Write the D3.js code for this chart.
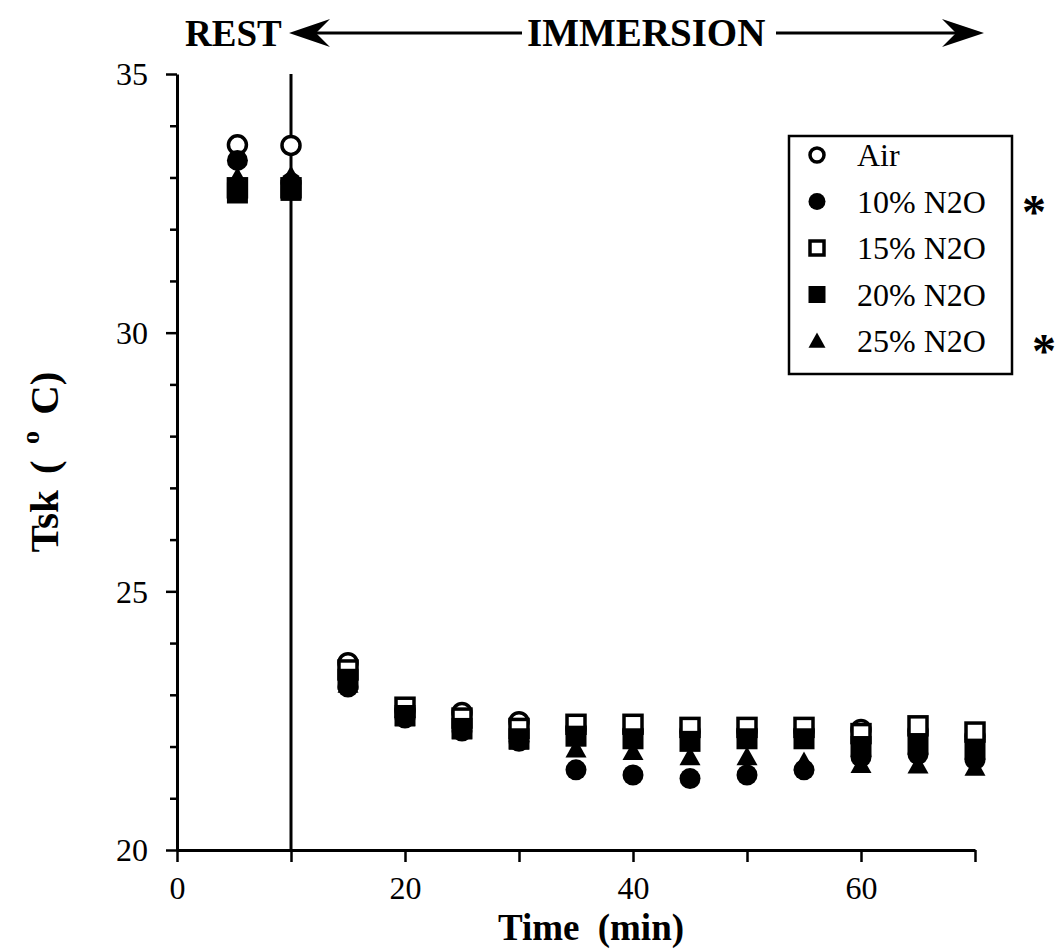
<!DOCTYPE html>
<html>
<head>
<meta charset="utf-8">
<script src="https://cdn.jsdelivr.net/npm/d3@7"></script>
<style>
  html, body { margin: 0; padding: 0; background: #fff; }
  svg { display: block; font-family: "Liberation Serif", "Times New Roman", serif; }
</style>
</head>
<body>
<div id="chart"></div>
<script>
// time points (min); first point is the rest reading
const times = [5.3, 10, 15, 20, 25, 30, 35, 40, 45, 50, 55, 60, 65, 70];

const airVals   = [33.63, 33.62, 23.62, 22.70, 22.66, 22.48, 22.35, 22.30, 22.30, 22.30, 22.30, 22.33, 22.30, 22.20];
const n10Vals   = [33.33, 32.90, 23.15, 22.55, 22.30, 22.10, 21.55, 21.45, 21.38, 21.45, 21.55, 21.80, 21.85, 21.75];
const n15Vals   = [32.80, 32.80, 23.48, 22.76, 22.55, 22.35, 22.43, 22.43, 22.37, 22.37, 22.37, 22.25, 22.40, 22.28];
const n20Vals   = [32.70, 32.75, 23.30, 22.60, 22.35, 22.15, 22.20, 22.15, 22.10, 22.15, 22.15, 22.00, 22.05, 21.95];
const n25Vals   = [33.00, 33.03, 23.20, 22.55, 22.30, 22.10, 21.95, 21.90, 21.80, 21.80, 21.70, 21.65, 21.64, 21.60];

const seriesNames = ["Air", "10% N2O", "15% N2O", "20% N2O", "25% N2O"];
const seriesShapes = ["circle-open", "circle", "square-open", "square", "triangle"];
const seriesVals = [airVals, n10Vals, n15Vals, n20Vals, n25Vals];
const starred = [false, true, false, false, true];

const xTicks = [0, 10, 20, 30, 40, 50, 60, 70];
const xTickLabels = [0, 20, 40, 60];
const yTicks = d3.range(20, 36, 1);
const yTickLabels = [20, 25, 30, 35];

const W = 1059, H = 952;
const svg = d3.select("#chart").append("svg").attr("width", W).attr("height", H);

const x = d3.scaleLinear().domain([0, 70]).range([177, 975]);
const y = d3.scaleLinear().domain([20, 35]).range([850, 74]);

// axes
const xAxis = svg.append("g").attr("transform", `translate(0,${y(20)})`)
    .call(d3.axisBottom(x).tickValues(xTicks).tickSize(12).tickSizeOuter(0).tickFormat(d => xTickLabels.includes(d) ? d : ""));
const yAxis = svg.append("g").attr("transform", `translate(${x(0)},0)`)
    .call(d3.axisLeft(y).tickValues(yTicks).tickSize(7).tickPadding(22).tickSizeOuter(0).tickFormat(d => yTickLabels.includes(d) ? d : ""));

[xAxis, yAxis].forEach(a => {
    a.select(".domain").attr("stroke", "#000").attr("stroke-width", 3);
    a.selectAll(".tick line").attr("stroke", "#000").attr("stroke-width", 2.5);
    a.selectAll(".tick text").attr("fill", "#000").style("font-size", "32px")
        .style("font-family", "'Liberation Serif', serif");
});
xAxis.selectAll(".tick text").attr("y", 49).attr("dy", 0);
yAxis.selectAll(".tick text").attr("dy", "0.34em");
yAxis.selectAll(".tick").filter(d => yTickLabels.includes(d)).select("line").attr("x2", -11);

// rest / immersion divider
svg.append("line")
    .attr("x1", x(10)).attr("x2", x(10)).attr("y1", y(35)).attr("y2", y(20))
    .attr("stroke", "#000").attr("stroke-width", 3);

// axis titles
svg.append("text").attr("x", 591).attr("y", 940).attr("text-anchor", "middle")
    .style("font-size", "37px").style("font-weight", "bold").style("word-spacing", "9px")
    .text("Time  (min)");

const yt = svg.append("text").attr("transform", "translate(58,462) rotate(-90)")
    .attr("text-anchor", "middle").style("font-size", "41px").style("font-weight", "bold")
    .style("word-spacing", "6px");
yt.append("tspan").text("Tsk ( ");
yt.append("tspan").attr("dy", -19).style("font-size", "26px").text("o");
yt.append("tspan").attr("dy", 19).text(" C)");

// header with arrows
const hy = 33;
svg.append("text").attr("x", 185).attr("y", hy + 13).style("font-size", "37px").style("font-weight", "bold").text("REST");
svg.append("text").attr("x", 527).attr("y", hy + 13).style("font-size", "39px").style("font-weight", "bold").text("IMMERSION");
svg.append("line").attr("x1", 305).attr("x2", 522).attr("y1", hy).attr("y2", hy).attr("stroke", "#000").attr("stroke-width", 3);
svg.append("line").attr("x1", 776).attr("x2", 965).attr("y1", hy).attr("y2", hy).attr("stroke", "#000").attr("stroke-width", 3);
svg.append("path").attr("d", `M289,${hy} L330,${hy - 14} L316,${hy} L330,${hy + 14} Z`).attr("fill", "#000");
svg.append("path").attr("d", `M984,${hy} L942,${hy - 14} L956,${hy} L942,${hy + 14} Z`).attr("fill", "#000");

// markers
function drawMarker(g, shape, cx, cy, s) {
    const h = s / 2;
    if (shape === "circle-open") {
        g.append("circle").attr("cx", cx).attr("cy", cy).attr("r", h - 1.5)
            .attr("fill", "#fff").attr("stroke", "#000").attr("stroke-width", 3.5);
    } else if (shape === "circle") {
        g.append("circle").attr("cx", cx).attr("cy", cy).attr("r", h).attr("fill", "#000");
    } else if (shape === "square-open") {
        g.append("rect").attr("x", cx - h + 1.5).attr("y", cy - h + 1.5).attr("width", s - 3).attr("height", s - 3)
            .attr("fill", "#fff").attr("stroke", "#000").attr("stroke-width", 3.5);
    } else if (shape === "square") {
        g.append("rect").attr("x", cx - h).attr("y", cy - h).attr("width", s).attr("height", s).attr("fill", "#000");
    } else if (shape === "triangle") {
        g.append("path").attr("d", `M${cx},${cy - h} L${cx + h},${cy + h * 0.8} L${cx - h},${cy + h * 0.8} Z`).attr("fill", "#000");
    }
}

const markers = svg.append("g");
// open markers first, filled ones drawn over them
[0, 2, 1, 3, 4].forEach(i => {
    times.forEach((t, j) => drawMarker(markers, seriesShapes[i], x(t), y(seriesVals[i][j]), 21));
});

// legend
const lg = svg.append("g");
lg.append("rect").attr("x", 789).attr("y", 136).attr("width", 223).attr("height", 238)
    .attr("fill", "#fff").attr("stroke", "#000").attr("stroke-width", 2.5);
seriesNames.forEach((name, i) => {
    const ly = 155 + i * 46.5;
    drawMarker(lg, seriesShapes[i], 817, ly, 17);
    lg.append("text").attr("x", 857).attr("y", ly + 11).style("font-size", "32px").text(name);
    if (starred[i]) {
        lg.append("text").attr("x", i === 1 ? 1034 : 1044).attr("y", ly + 26).attr("text-anchor", "middle")
            .style("font-size", "48px").style("font-weight", "bold").text("*");
    }
});
</script>
</body>
</html>
